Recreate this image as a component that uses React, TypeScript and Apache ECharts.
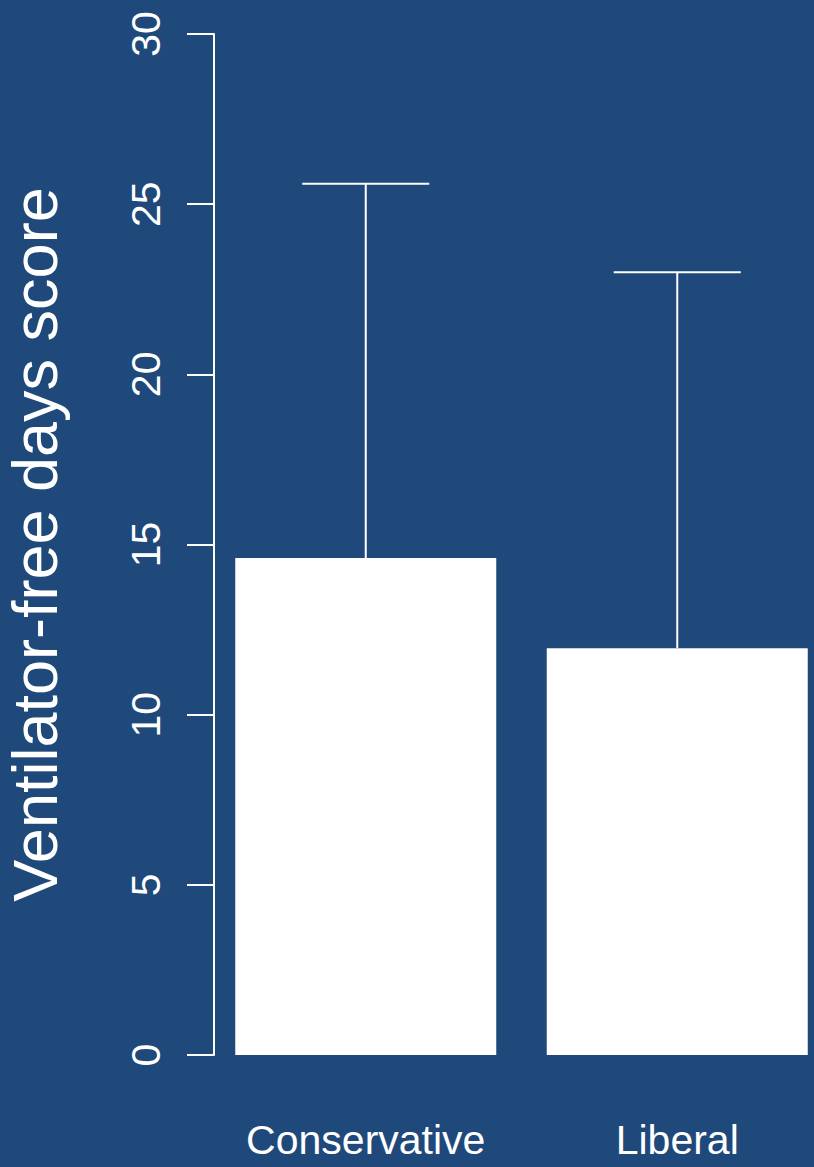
import React, { useEffect, useRef } from "react";
import * as echarts from "echarts";

const categories = ["Conservative", "Liberal"];
const meanValues = [14.6, 11.95];
const upperValues = [25.6, 23.0];
const yTicks = { min: 0, max: 30, interval: 5 };
const yTitle = "Ventilator-free days score";

const BG = "#20497B";
const FONT = "'Liberation Sans', Arial, Helvetica, sans-serif";

export default function App() {
  const ref = useRef<HTMLDivElement>(null);
  useEffect(() => {
    if (!ref.current) return;
    const chart = echarts.init(ref.current, null, { renderer: "svg" });
    chart.setOption({
      animation: false,
      backgroundColor: BG,
      grid: { left: 210, top: 34, bottom: 112, width: 623, containLabel: false, outerBoundsMode: "none" },
      xAxis: {
        type: "category",
        data: categories,
        axisLine: { show: false },
        axisTick: { show: false },
        axisLabel: { color: "#fff", fontSize: 41, fontFamily: FONT, margin: 64, interval: 0, hideOverlap: false },
      },
      yAxis: {
        type: "value",
        min: yTicks.min,
        max: yTicks.max,
        interval: yTicks.interval,
        offset: -4,
        name: yTitle,
        nameLocation: "middle",
        nameRotate: 90,
        nameGap: 148,
        nameTextStyle: { color: "#fff", fontSize: 63, fontFamily: FONT },
        splitLine: { show: false },
        axisLine: { show: true, lineStyle: { color: "#fff", width: 2 } },
        axisTick: { show: true, length: 27, lineStyle: { color: "#fff", width: 2 } },
        axisLabel: { color: "#fff", fontSize: 41, fontFamily: FONT, rotate: 90, margin: 48 },
      },
      series: [
        {
          type: "bar",
          data: meanValues,
          barWidth: 261,
          itemStyle: { color: "#fff" },
          z: 2,
        },
        {
          type: "custom",
          z: 3,
          data: categories.map((c, i) => [i, meanValues[i], upperValues[i]]),
          renderItem: (params: any, api: any) => {
            const x = api.value(0);
            const lo = api.coord([x, api.value(1)]);
            const hi = api.coord([x, api.value(2)]);
            const half = 63.5;
            const style = { stroke: "#fff", lineWidth: 2 };
            return {
              type: "group",
              children: [
                { type: "line", shape: { x1: lo[0], y1: lo[1], x2: hi[0], y2: hi[1] }, style },
                { type: "line", shape: { x1: hi[0] - half, y1: hi[1], x2: hi[0] + half, y2: hi[1] }, style },
              ],
            };
          },
        },
      ],
    });
    return () => chart.dispose();
  }, []);
  return (
    <div style={{ position: "absolute", left: 0, top: 0 }}>
      <div ref={ref} style={{ width: 814, height: 1167 }} />
    </div>
  );
}
